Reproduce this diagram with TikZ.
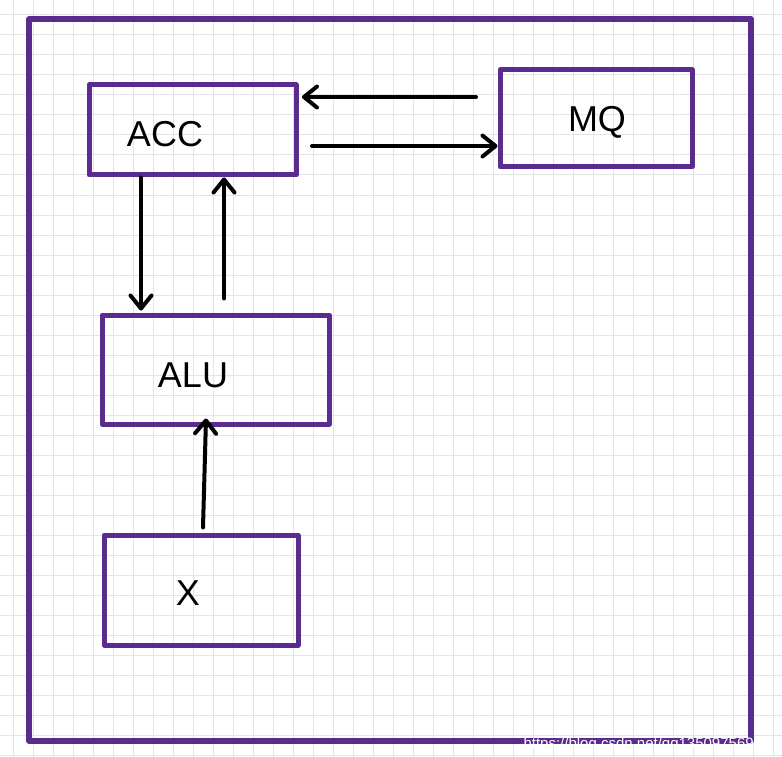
\documentclass[tikz,border=0pt]{standalone}
\usepackage{fontspec}
\setmainfont{Liberation Sans}
\usetikzlibrary{arrows.meta}
\definecolor{boxpurple}{RGB}{91,44,144}
\definecolor{gridgray}{RGB}{228,228,232}

\begin{document}
\begin{tikzpicture}[x=1pt, y=-1pt,
  box/.style={draw=boxpurple, line width=5pt, line join=round, inner sep=0pt},
  lbl/.style={anchor=base, font=\fontsize{36}{40}\selectfont},
  arr/.style={line width=4pt, line cap=round, -{Straight Barb[length=13pt,width=21pt,line width=4pt,round]}}]
\useasboundingbox (0,0) rectangle (782,757);
% grid
\foreach \x in {13,33,...,773} \draw [gridgray, line width=1pt] (\x,0) -- (\x,757);
\foreach \y in {15,35,...,755} \draw [gridgray, line width=1pt] (0,\y) -- (782,\y);
% frame
\draw [boxpurple, line width=5.5pt, line join=round] (29,19) rectangle (751,741);
% boxes
\node[box, minimum width=207pt, minimum height=90pt] (acc) at (192.5,130) {};
\node[box, minimum width=192pt, minimum height=97pt] (mq) at (596,118.5) {};
\node[box, minimum width=227pt, minimum height=109pt] (alu) at (215.5,369.5) {};
\node[box, minimum width=194pt, minimum height=110pt] (x) at (201,590) {};
% labels
\node[lbl] (acclbl) at (165,147) {ACC};
\node[lbl] (mqlbl) at (597,132) {MQ};
\node[lbl] (alulbl) at (193,387) {ALU};
\node[lbl] (xlbl) at (188,605) {X};
% arrows
\draw [arr] ([shift={(-21.5,-21.5)}]mq.west) -- ([shift={(3.5,-33)}]acc.east);
\draw [arr] ([shift={(13.5,16)}]acc.east) -- ([shift={(0,27.5)}]mq.west);
\draw [arr] ([shift={(-51.5,0)}]acc.south) -- ([shift={(-74.5,-2)}]alu.north);
\draw [arr] ([shift={(8.5,-14)}]alu.north) -- ([shift={(31.5,0)}]acc.south);
\draw [arr] ([shift={(2,-5)}]x.north) -- ([shift={(-9.5,-8)}]alu.south);
% watermark
\node[anchor=base west, text=white, font=\fontsize{15}{16}\selectfont] (mark) at (520,748) {https://blog.csdn.net/qq1350975694};
\end{tikzpicture}
\end{document}
